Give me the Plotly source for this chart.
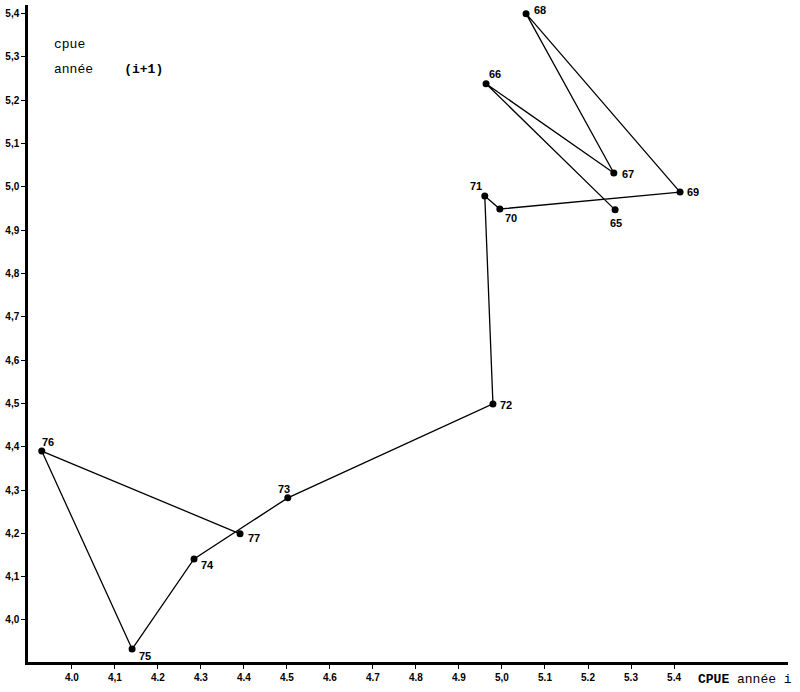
import plotly.graph_objects as go

# annee i, cpue annee i, cpue annee i+1
years = [65, 66, 67, 68, 69, 70, 71, 72, 73, 74, 75, 76, 77]
cpue_i = [5.263, 4.963, 5.260, 5.056, 5.414, 4.995, 4.960, 4.979, 4.502, 4.284, 4.140, 3.930, 4.391]
cpue_i1 = [4.947, 5.238, 5.032, 5.400, 4.988, 4.949, 4.979, 4.499, 4.282, 4.141, 3.933, 4.390, 4.199]

x_ticks = [4.0, 4.1, 4.2, 4.3, 4.4, 4.5, 4.6, 4.7, 4.8, 4.9, 5.0, 5.1, 5.2, 5.3, 5.4]
x_labels = ["4.0", "4,1", "4.2", "4.3", "4.4", "4.5", "4.6", "4.7", "4.8", "4.9", "5,0", "5.1", "5.2", "5.3", "5.4"]
y_ticks = [4.0, 4.1, 4.2, 4.3, 4.4, 4.5, 4.6, 4.7, 4.8, 4.9, 5.0, 5.1, 5.2, 5.3, 5.4]
y_labels = ["4,0", "4,1", "4,2", "4,3", "4,4", "4,5", "4,6", "4,7", "4,8", "4,9", "5,0", "5,1", "5,2", "5,3", "5,4"]

# label offsets (px) for each year number
offsets = {65: (1, -13), 66: (9, 10), 67: (14, -1), 68: (14, 4), 69: (13, 0),
           70: (11, -9), 71: (-9, 10), 72: (13, -1), 73: (-4, 9), 74: (13, -6),
           75: (13, -7), 76: (6, 9), 77: (14, -4)}

fig = go.Figure()
fig.add_trace(go.Scatter(x=cpue_i, y=cpue_i1, mode="lines+markers",
                         line=dict(color="black", width=1.3),
                         marker=dict(color="black", size=7),
                         hoverinfo="skip", showlegend=False))

for yr, xv, yv in zip(years, cpue_i, cpue_i1):
    dx, dy = offsets[yr]
    fig.add_annotation(x=xv, y=yv, text=str(yr), showarrow=False,
                       xshift=dx, yshift=dy,
                       font=dict(family="Liberation Sans", size=11, color="black", weight="bold"))

fig.add_annotation(xref="paper", yref="paper", x=0.031, y=0.954, xanchor="left",
                   text="cpue", showarrow=False,
                   font=dict(family="Liberation Mono", size=13, color="black"))
fig.add_annotation(xref="paper", yref="paper", x=0.031, y=0.916, xanchor="left",
                   text="ann\u00e9e&nbsp;&nbsp;&nbsp;&nbsp;<b>(i+1)</b>", showarrow=False,
                   font=dict(family="Liberation Mono", size=13, color="black"))
fig.add_annotation(xref="paper", yref="paper", x=1.0, xshift=6, y=0, yshift=-8,
                   xanchor="right", yanchor="top",
                   text="<b>CPUE</b> ann\u00e9e i", showarrow=False,
                   font=dict(family="Liberation Mono", size=13, color="black"))

fig.update_xaxes(range=[3.898, 5.665], tickvals=x_ticks, ticktext=x_labels, automargin=False,
                 showgrid=False, zeroline=False, showline=True, linecolor="black", linewidth=2.5,
                 ticks="outside", ticklen=4, tickcolor="black",
                 tickfont=dict(family="Liberation Sans", size=10, color="black", weight="bold"))
fig.update_yaxes(range=[3.903, 5.42], tickvals=y_ticks, ticktext=y_labels, automargin=False,
                 showgrid=False, zeroline=False, showline=True, linecolor="black", linewidth=2.5,
                 ticks="outside", ticklen=4, tickcolor="black",
                 tickfont=dict(family="Liberation Sans", size=10, color="black", weight="bold"))

fig.update_layout(width=800, height=692, margin=dict(l=28, r=12, t=5, b=30),
                  plot_bgcolor="white", paper_bgcolor="white")

# drop the page's default body margin so the figure fills the window
fig.write_html("out.html", config={"displayModeBar": False},
               post_script="document.body.style.margin = '0';")
